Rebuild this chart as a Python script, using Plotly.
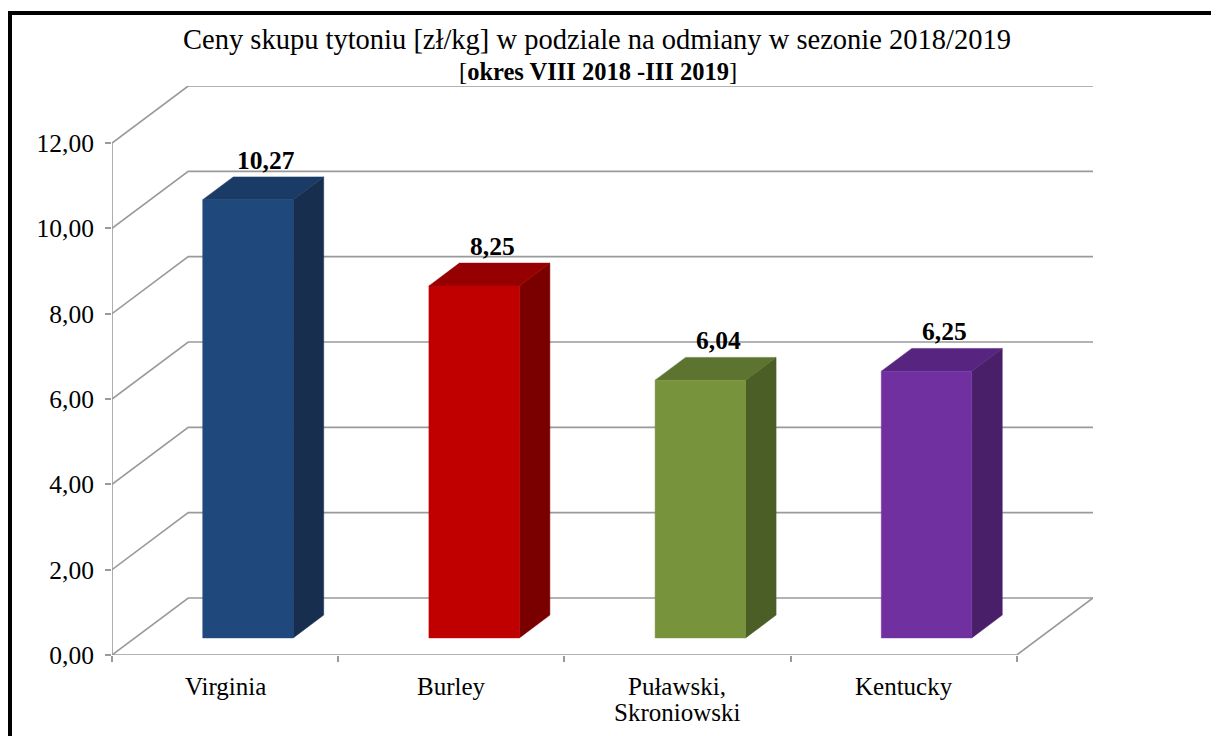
import plotly.graph_objects as go

# ---- data ----
categories = ["Virginia", "Burley", "Puławski,<br>Skroniowski", "Kentucky"]
prices = [10.27, 8.25, 6.04, 6.25]
value_labels = ["10,27", "8,25", "6,04", "6,25"]
y_ticks = [0, 2, 4, 6, 8, 10, 12]
y_tick_labels = ["0,00", "2,00", "4,00", "6,00", "8,00", "10,00", "12,00"]
front_colors = ["#1F497D", "#C00000", "#77933C", "#7030A0"]
top_colors = ["#1A3B66", "#960000", "#5D7330", "#572580"]
side_colors = ["#172E4F", "#7A0000", "#4B5E26", "#4A1F69"]

# ---- projection / layout parameters ----
OFF = 8  # page body margin
W_PX, H_PX = 1219 - OFF, 736 - OFF
L, R, T, B = 112 - OFF, 126, 86 - OFF, 81
DX = 0.337    # depth offset in category units
DY = 1.336    # depth offset in value units
BAR_W = 0.4
D_FRONT = 0.3
D_BACK = 0.7
NCAT = len(categories)
YMAX = max(y_ticks)

FONT = "Liberation Serif, Times New Roman, serif"
GRID = "#9A9A9A"

fig = go.Figure()
shapes = []

# gridlines (floor and back wall)
for v in y_ticks:
    path = f"M 0,{v} L {DX},{v + DY} L {NCAT + DX},{v + DY}"
    shapes.append(dict(type="path", path=path, xref="x", yref="y", layer="below",
                       line=dict(color=GRID, width=1.6)))
# floor right edge
shapes.append(dict(type="line", x0=NCAT, y0=0, x1=NCAT + DX, y1=DY, xref="x", yref="y",
                   layer="below", line=dict(color=GRID, width=1.6)))
# front axes
shapes.append(dict(type="line", x0=0, y0=0, x1=NCAT, y1=0, xref="x", yref="y",
                   layer="below", line=dict(color=GRID, width=1.6)))
shapes.append(dict(type="line", x0=0, y0=0, x1=0, y1=YMAX, xref="x", yref="y",
                   layer="below", line=dict(color=GRID, width=1.6)))

# bars
for i, v in enumerate(prices):
    fx0 = i + 0.5 - BAR_W / 2 + D_FRONT * DX
    fx1 = fx0 + BAR_W
    base = D_FRONT * DY
    top = base + v
    ddx = (D_BACK - D_FRONT) * DX
    ddy = (D_BACK - D_FRONT) * DY
    # side face
    fig.add_trace(go.Scatter(
        x=[fx1, fx1, fx1 + ddx, fx1 + ddx, fx1],
        y=[base, top, top + ddy, base + ddy, base],
        mode="lines", fill="toself", fillcolor=side_colors[i],
        line=dict(width=0.5, color=side_colors[i]), hoverinfo="skip", showlegend=False))
    # top face
    fig.add_trace(go.Scatter(
        x=[fx0, fx1, fx1 + ddx, fx0 + ddx, fx0],
        y=[top, top, top + ddy, top + ddy, top],
        mode="lines", fill="toself", fillcolor=top_colors[i],
        line=dict(width=0.5, color=top_colors[i]), hoverinfo="skip", showlegend=False))
    # front face
    fig.add_trace(go.Scatter(
        x=[fx0, fx1, fx1, fx0, fx0],
        y=[base, base, top, top, base],
        mode="lines", fill="toself", fillcolor=front_colors[i],
        line=dict(width=0.5, color=front_colors[i]), hoverinfo="skip", showlegend=False))

annotations = []
# value labels
for i, v in enumerate(prices):
    cx = i + 0.5 + D_FRONT * DX + (D_BACK - D_FRONT) * DX * 0.6
    ty = D_BACK * DY + v
    annotations.append(dict(x=cx, y=ty, xref="x", yref="y", text=f"<b>{value_labels[i]}</b>",
                            showarrow=False, yanchor="bottom", yshift=0,
                            font=dict(family=FONT, size=25.5, color="black")))

# category labels (tight line spacing as in the original)
for i, cat in enumerate(categories):
    for j, line in enumerate(cat.split("<br>")):
        annotations.append(dict(x=i + 0.5, y=0, xref="x", yref="y", text=line,
                                showarrow=False, yanchor="middle", yshift=-(31 + 26 * j),
                                font=dict(family=FONT, size=25, color="black")))

# helper: page pixel -> paper
def px(x):
    return (x - OFF - L) / (W_PX - L - R)

def py(y):
    return (H_PX - B - (y - OFF)) / (H_PX - T - B)

# title
annotations.append(dict(x=px(597), y=py(40), xref="paper", yref="paper", showarrow=False,
                        text="Ceny skupu tytoniu [zł/kg] w podziale na odmiany w sezonie 2018/2019",
                        font=dict(family=FONT, size=28.5, color="black"), yanchor="middle"))
annotations.append(dict(x=px(598), y=py(72), xref="paper", yref="paper", showarrow=False,
                        text="[<b>okres VIII 2018 -III 2019</b>]",
                        font=dict(family=FONT, size=24.5, color="black"), yanchor="middle"))

# outer frame (black top/left border)
shapes.append(dict(type="line", xref="paper", yref="paper", x0=px(8), x1=px(1225), y0=py(13), y1=py(13),
                   line=dict(color="black", width=4)))
shapes.append(dict(type="line", xref="paper", yref="paper", x0=px(10), x1=px(10), y0=py(11), y1=py(740),
                   line=dict(color="black", width=4)))

fig.update_layout(
    width=W_PX, height=H_PX,
    margin=dict(l=L, r=R, t=T, b=B, pad=0),
    paper_bgcolor="white", plot_bgcolor="white",
    showlegend=False,
    shapes=shapes, annotations=annotations,
    xaxis=dict(range=[0, NCAT + DX], tickmode="array",
               tickvals=[i + 0.5 for i in range(NCAT)], ticktext=categories,
               ticks="", showticklabels=False,
               showgrid=False, zeroline=False, showline=False,
               minor=dict(ticks="outside", tick0=0, dtick=1, ticklen=6,
                          tickcolor=GRID, tickwidth=1.6, showgrid=False),
               fixedrange=True),
    yaxis=dict(range=[0, YMAX + DY], tickmode="array", tickvals=y_ticks, ticktext=y_tick_labels,
               ticks="outside", ticklen=6, tickcolor=GRID, tickwidth=1.6,
               showgrid=False, zeroline=False, showline=False,
               ticklabelstandoff=6,
               tickfont=dict(family=FONT, size=25.5, color="black"),
               fixedrange=True),
)

fig.write_html("out.html")
